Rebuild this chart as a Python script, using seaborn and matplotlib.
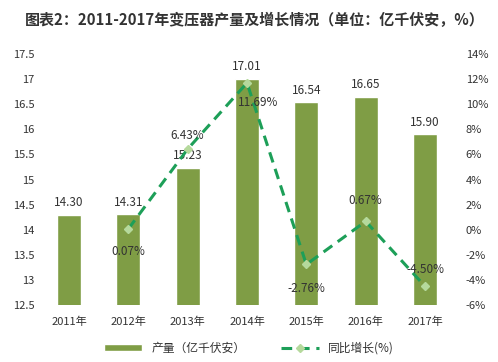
import matplotlib
matplotlib.use('Agg')
import matplotlib.pyplot as plt
import numpy as np
import pandas as pd
import seaborn as sns

years = ['2011年', '2012年', '2013年', '2014年', '2015年', '2016年', '2017年']
output = [14.30, 14.31, 15.23, 17.01, 16.54, 16.65, 15.90]
growth = [np.nan, 0.07, 6.43, 11.69, -2.76, 0.67, -4.50]
growth_labels = ['', '0.07%', '6.43%', '11.69%', '-2.76%', '0.67%', '-4.50%']

sns.set_style('white')
plt.rcParams['font.family'] = ['Noto Sans CJK SC', 'DejaVu Sans']

bar_c = '#7f9d45'
line_c = '#1d9f58'
txt_c = '#333333'

df = pd.DataFrame({'year': years, 'output': output, 'growth': growth})

fig = plt.figure(figsize=(4.98, 3.62), dpi=100)
ax = fig.add_axes([0.079, 0.157, 0.834, 0.694])
sns.barplot(data=df, x='year', y='output', color=bar_c, width=0.4,
            saturation=1, ax=ax, label='产量（亿千伏安）')
if ax.get_legend() is not None:
    ax.get_legend().remove()
ax.set_ylim(12.5, 17.5)
ax.set_yticks(np.arange(12.5, 17.51, 0.5))
ax.set_yticklabels(['%g' % v for v in np.arange(12.5, 17.51, 0.5)])
ax.set_xlabel('')
ax.set_ylabel('')
ax.set_xlim(-0.5, 6.5)
for s in ax.spines.values():
    s.set_visible(False)
ax.tick_params(axis='both', length=0, labelsize=8, colors=txt_c)
ax.tick_params(axis='x', pad=8)
for i, v in enumerate(output):
    ax.annotate('%.2f' % v, (i, v), xytext=(0, 4), textcoords='offset points',
                ha='center', va='bottom', fontsize=8.5, color=txt_c)

ax2 = ax.twinx()
ax2.plot(np.arange(len(years)), growth, color=line_c, lw=2.2, ls=(0, (3.5, 2.2)),
         marker='D', ms=4.5, mfc='#b5d99c', mec='#b5d99c', label='同比增长(%)')
ax2.set_ylim(-6, 14)
ax2.set_yticks(np.arange(-6, 14.1, 2))
ax2.set_yticklabels(['%d%%' % v for v in np.arange(-6, 15, 2)])
for s in ax2.spines.values():
    s.set_visible(False)
ax2.tick_params(axis='y', length=0, labelsize=8, colors=txt_c, pad=8)
offsets = [None, (0, -16), (0, 10), (8, -14), (0, -17), (0, 15), (0, 12)]
for i, (v, t) in enumerate(zip(growth, growth_labels)):
    if offsets[i] is None:
        continue
    ax2.annotate(t, (i, v), xytext=offsets[i], textcoords='offset points',
                 ha='center', va='center', fontsize=8.5, color=txt_c)

h1, l1 = ax.get_legend_handles_labels()
h2, l2 = ax2.get_legend_handles_labels()
fig.legend(h1 + h2, l1 + l2, loc='lower center', bbox_to_anchor=(0.5, -0.01),
           ncol=2, frameon=False, fontsize=8.5, handlelength=3.2,
           handleheight=0.5, columnspacing=3, labelcolor=txt_c)

fig.text(0.05, 0.945, '图表2：2011-2017年变压器产量及增长情况（单位：亿千伏安，%）',
         fontsize=10.8, fontweight='bold', color='#333333', va='center')

fig.savefig('out.png', dpi=100)
